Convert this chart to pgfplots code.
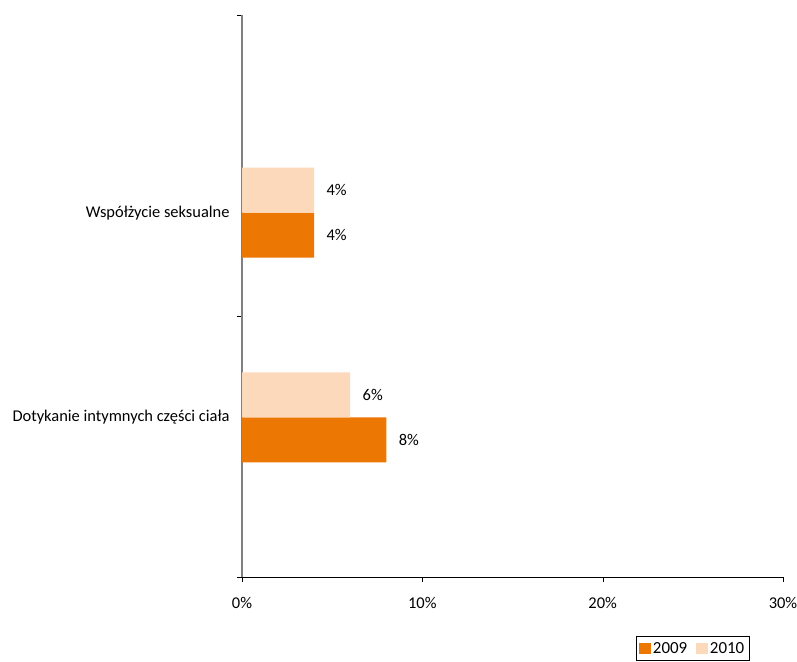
\documentclass[border=0pt]{standalone}
\usepackage{pgfplots}
\pgfplotsset{compat=1.18}
\usepackage{fontspec}
\setmainfont{Carlito}
\definecolor{c2009}{RGB}{237,119,3}
\definecolor{c2010}{RGB}{252,217,186}
\begin{document}
\begin{tikzpicture}[x=1bp,y=1bp]
\path[use as bounding box] (0,0) rectangle (797,662);
\begin{axis}[
  at={(242bp,85bp)}, anchor=south west,
  scale only axis, width=541bp, height=562bp,
  font=\fontsize{16.5}{19}\selectfont,
  /pgf/number format/assume math mode=true,
  xmin=0, xmax=30, ymin=0, ymax=562,
  xbar, bar width=45, bar shift=0pt,
  axis x line*=bottom, axis y line*=left,
  x axis line style={black, -},
  y axis line style={gray, line width=1.2bp, -},
  tick align=outside, major tick length=5bp,
  tick style={black},
  xtick={0,10,20,30},
  xticklabels={0\%,10\%,20\%,30\%},
  xticklabel style={yshift=-12bp},
  ytick={0,261,562}, yticklabels={},
  extra y ticks={159.7,364.3},
  extra y tick labels={Dotykanie intymnych części ciała,Współżycie seksualne},
  extra y tick style={major tick length=0pt, yticklabel style={xshift=-9bp}},
  nodes near coords={\pgfmathprintnumber{\pgfplotspointmeta}\%},
  point meta=x,
  nodes near coords style={anchor=west, xshift=9bp, black},
  legend columns=2,
  legend style={at={(0.7283,-0.105)}, anchor=north west, draw=black,
    inner xsep=3bp, inner ysep=4bp, font=\fontsize{17}{20}\selectfont,
    /tikz/every even column/.append style={column sep=7bp}},
  legend image code/.code={\fill[#1] (0bp,-6bp) rectangle (11.7bp,5.7bp);},
]
\addplot[draw=none, fill=c2009] coordinates {(8,137.2) (4,341.8)};
\addplot[draw=none, fill=c2010] coordinates {(6,182.2) (4,386.8)};
\legend{2009,2010}
\end{axis}
\end{tikzpicture}
\end{document}
